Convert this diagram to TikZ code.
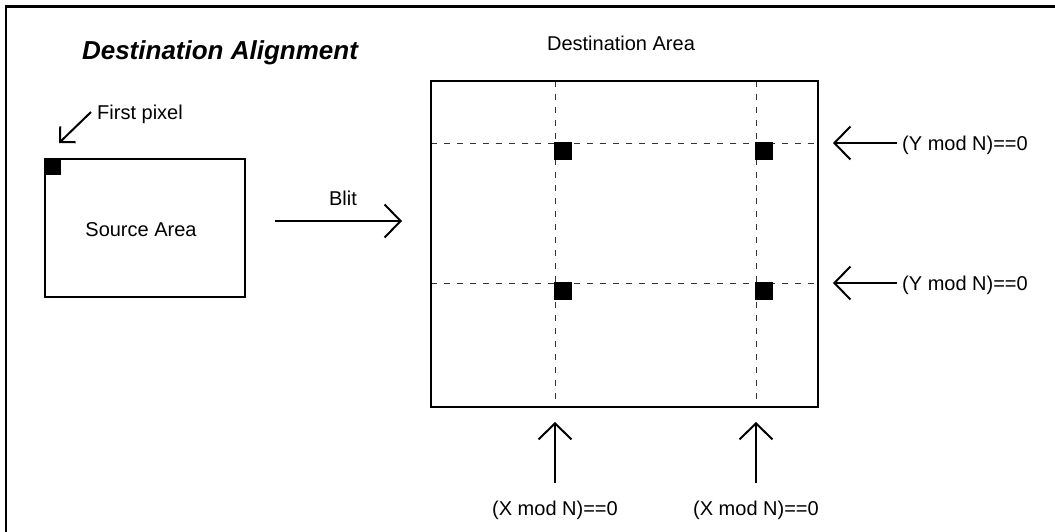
\documentclass[tikz,border=0pt]{standalone}
\usepackage{fontspec}
\setmainfont{Liberation Sans}
\usetikzlibrary{arrows.meta}
\begin{document}
\begin{tikzpicture}[x=1pt,y=-1pt,
  lbl/.style={font=\fontsize{20}{24}\selectfont, inner sep=0pt},
  ttl/.style={font=\fontsize{26}{30}\selectfont\bfseries\itshape, inner sep=0pt},
  bigarrow/.style={line width=2pt, -{Straight Barb[length=16pt,width=33pt,line width=2pt]}},
  smallarrow/.style={line width=2pt, -{Straight Barb[length=11pt,width=22pt,line width=2pt]}},
  grid/.style={black!80, line width=0.9pt, dash pattern=on 6pt off 7pt},
  pix/.style={fill=black, draw=none},
  box/.style={draw=black, line width=2pt}]
\clip (0,0) rectangle (1055,532);
\fill[white] (0,0) rectangle (1055,532);
% outer frame (cropped)
\draw[line width=2.5pt] (6,700) -- (6,6.5) -- (1200,6.5);
% title
\node[ttl, anchor=base] (title) at (220,60) {Destination Alignment};
% source area
\node[box, minimum width=200pt, minimum height=138pt, inner sep=0pt] (src) at (145,228) {};
\fill[pix] (45,159) rectangle (61,175);
\node[lbl, anchor=base] (srclbl) at (141,236) {Source Area};
% first pixel
\node[lbl, anchor=base] (fp) at (140,120) {First pixel};
\coordinate (fpt) at (91,112);
\coordinate (fph) at (59,143);
\draw[smallarrow] (fpt) -- (fph);
% blit
\coordinate (b0) at (275,221);
\coordinate (b1) at (402,221);
\draw[bigarrow] (b0) -- (b1);
\node[lbl, anchor=base] (blit) at (343,205) {Blit};
% destination area
\node[lbl, anchor=base] (dlbl) at (621,51) {Destination Area};
\draw[grid] (431,143) -- (818,143);
\draw[grid] (431,283) -- (818,283);
\draw[grid] (555,81) -- (555,407);
\draw[grid] (756,81) -- (756,407);
\node[draw=black, line width=1.5pt, minimum width=387pt, minimum height=326pt, inner sep=0pt] (dst) at (624.5,244) {};
\fill[pix] (554,142) rectangle (572,160);
\fill[pix] (755,142) rectangle (773,160);
\fill[pix] (554,282) rectangle (572,300);
\fill[pix] (755,282) rectangle (773,300);
% Y labels
\coordinate (yt1) at (833,143);
\coordinate (yt2) at (833,283);
\node[lbl, anchor=base west, inner xsep=5pt] (yl1) at (897,150) {(Y mod N)==0};
\node[lbl, anchor=base west, inner xsep=5pt] (yl2) at (897,290) {(Y mod N)==0};
\draw[bigarrow] (yl1.west |- yt1) -- (yt1);
\draw[bigarrow] (yl2.west |- yt2) -- (yt2);
% X labels
\coordinate (xt1) at (555,422);
\coordinate (xt2) at (756,422);
\node[lbl, anchor=base, inner ysep=17pt] (xl1) at (555,515) {(X mod N)==0};
\node[lbl, anchor=base, inner ysep=17pt] (xl2) at (756,515) {(X mod N)==0};
\draw[bigarrow] (xl1.north) -- (xt1);
\draw[bigarrow] (xl2.north) -- (xt2);
\end{tikzpicture}
\end{document}
